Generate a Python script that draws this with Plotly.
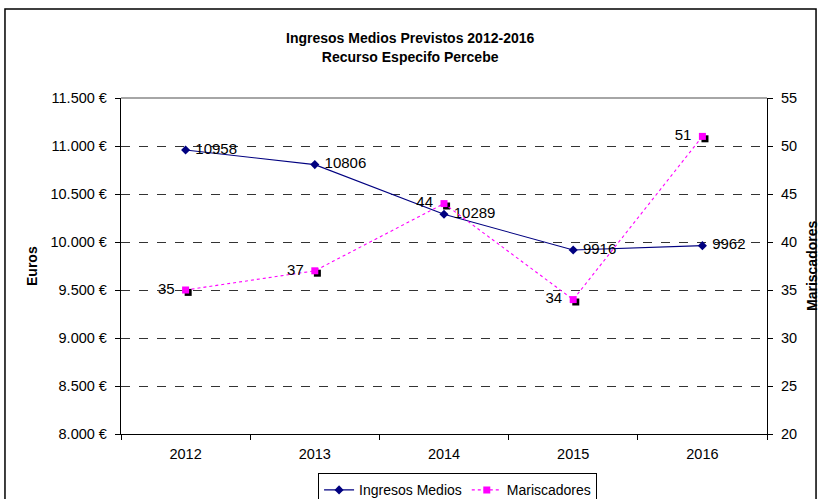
import plotly.graph_objects as go

years = ["2012", "2013", "2014", "2015", "2016"]
ingresos = [10958, 10806, 10289, 9916, 9962]
mariscadores = [35, 37, 44, 34, 51]
euro_ticks = [8000, 8500, 9000, 9500, 10000, 10500, 11000, 11500]
euro_labels = ["8.000 €", "8.500 €", "9.000 €", "9.500 €", "10.000 €", "10.500 €", "11.000 €", "11.500 €"]
mar_ticks = [20, 25, 30, 35, 40, 45, 50, 55]

xpos = list(range(len(years)))
FONT = "Liberation Sans, Arial, sans-serif"

fig = go.Figure()

fig.add_trace(go.Scatter(
    x=xpos, y=ingresos, name="Ingresos Medios", mode="lines+markers",
    line=dict(color="#000080", width=1.1),
    marker=dict(symbol="diamond", size=7, color="#000080"),
    yaxis="y", cliponaxis=False,
))
# value labels (transparent larger markers give the label offset)
fig.add_trace(go.Scatter(
    x=xpos, y=ingresos, mode="markers+text", showlegend=False, hoverinfo="skip",
    marker=dict(size=14, color="rgba(0,0,0,0)"),
    text=[str(v) for v in ingresos], textposition="middle right",
    textfont=dict(family=FONT, size=15, color="black"),
    yaxis="y", cliponaxis=False,
))

# shadow squares for Mariscadores
fig.add_trace(go.Scatter(
    x=[v + 0.02 for v in xpos], y=[v - 0.25 for v in mariscadores],
    mode="markers", marker=dict(symbol="square", size=7, color="black"),
    yaxis="y2", showlegend=False, hoverinfo="skip",
))
fig.add_trace(go.Scatter(
    x=xpos, y=mariscadores, name="Mariscadores", mode="lines+markers",
    line=dict(color="#FF00FF", width=1.1, dash="dot"),
    marker=dict(symbol="square", size=7, color="#FF00FF"),
    yaxis="y2", cliponaxis=False,
))
fig.add_trace(go.Scatter(
    x=xpos, y=mariscadores, mode="markers+text", showlegend=False, hoverinfo="skip",
    marker=dict(size=16, color="rgba(0,0,0,0)"),
    text=[str(v) for v in mariscadores], textposition="middle left",
    textfont=dict(family=FONT, size=15, color="black"),
    yaxis="y2", cliponaxis=False,
))

fig.update_layout(
    width=822, height=499,
    margin=dict(l=121, r=55, t=98, b=65, autoexpand=False),
    paper_bgcolor="white", plot_bgcolor="white",
    font=dict(family=FONT, size=14, color="black"),
    title=dict(text="<b>Ingresos Medios Previstos 2012-2016<br>Recurso Especifo Percebe</b>",
               x=0.499, xref="container", xanchor="center", y=0.913, yanchor="middle",
               font=dict(family=FONT, size=14, color="black")),
    xaxis=dict(range=[-0.5, 4.5], tickvals=xpos, ticktext=years, ticks="",
               showline=True, linecolor="black", linewidth=1.3, showgrid=False,
               zeroline=False, tickfont=dict(size=14.5), automargin=False,
               ticklabelstandoff=6,
               minor=dict(tickvals=[-0.5, 0.5, 1.5, 2.5, 3.5, 4.5], ticks="outside",
                          ticklen=5, tickcolor="black", showgrid=False)),
    yaxis=dict(range=[8000, 11500], tickvals=euro_ticks, ticktext=euro_labels,
               showline=True, linecolor="black", linewidth=1.3, ticks="outside",
               ticklen=5, tickcolor="black", showgrid=True, gridcolor="#333333",
               griddash="dash", gridwidth=1, zeroline=False, automargin=False,
               tickfont=dict(size=14.5), ticklabelstandoff=5),
    yaxis2=dict(range=[20, 55], tickvals=mar_ticks, overlaying="y", side="right",
                showline=True, linecolor="black", linewidth=1.3, ticks="outside",
                ticklen=5, tickcolor="black", showgrid=False, zeroline=False,
                automargin=False, tickfont=dict(size=14.5), ticklabelstandoff=5),
    legend=dict(orientation="h", x=0.521, xanchor="center", y=-0.117, yanchor="top",
                bordercolor="black", borderwidth=1, font=dict(size=14),
                tracegroupgap=0),
    showlegend=True,
    annotations=[
        dict(text="<b>Euros</b>", xref="paper", yref="paper", x=0, y=0.5,
             xanchor="center", yanchor="middle",
             xshift=-89, textangle=-90, showarrow=False, font=dict(size=14)),
        dict(text="<b>Mariscadores</b>", xref="paper", yref="paper", x=1, y=0.5,
             xanchor="center", yanchor="middle",
             xshift=45, textangle=-90, showarrow=False, font=dict(size=14)),
    ],
)

# top border of plot area (solid gray)
fig.add_shape(type="line", xref="paper", yref="paper", x0=0, x1=1, y0=1, y1=1,
              line=dict(color="#888888", width=1.3))
# outer chart border
fig.add_shape(type="rect", xref="paper", yref="paper",
              x0=-0.1796, x1=1.0759, y0=-0.25, y1=1.2649,
              line=dict(color="black", width=1.5), layer="below")

fig.write_html("out.html", config={"displayModeBar": False},
               post_script="document.body.style.margin='0';")
